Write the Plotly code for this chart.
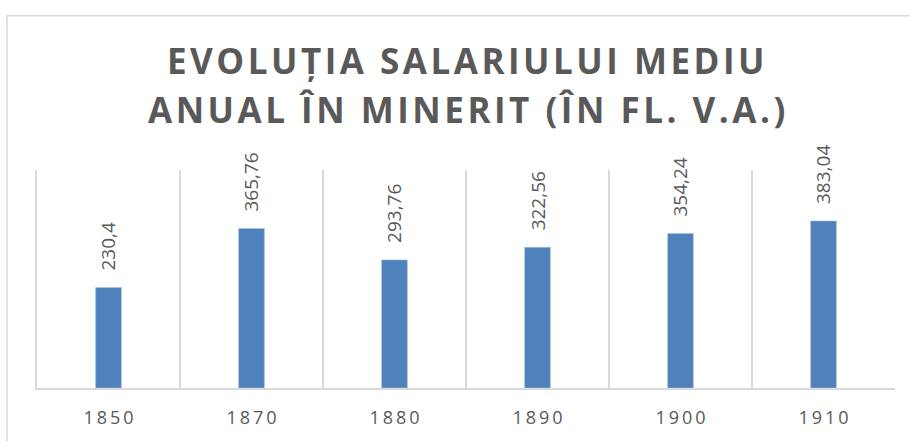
import plotly.graph_objects as go

# Data
years = ["1850", "1870", "1880", "1890", "1900", "1910"]
salaries = [230.4, 365.76, 293.76, 322.56, 354.24, 383.04]
salary_labels = ["230,4", "365,76", "293,76", "322,56", "354,24", "383,04"]
year_ticks = ["\u2009".join(y) for y in years]
title_lines = ["EVOLUȚIA SALARIULUI MEDIU", "ANUAL ÎN MINERIT (ÎN FL. V.A.)"]

W, H = 910, 441
ML, MR, MT, MB = 37, 15, 170, 49
plot_w = W - ML - MR
plot_h = H - MT - MB


def px_x(x):
    return (x - ML) / plot_w


def px_y(y):
    return (H - MB - y) / plot_h


grey = "#595959"
line_grey = "#d9d9d9"

fig = go.Figure()
fig.add_trace(go.Bar(
    x=years, y=salaries,
    marker=dict(color="#4f81bd", line=dict(color="#a7bfde", width=0.6)),
    width=0.18,
    hoverinfo="x+y",
))

# value labels above bars, rotated (x as category index)
for i, (val, lab) in enumerate(zip(salaries, salary_labels)):
    fig.add_annotation(
        x=i, y=val, text=lab, showarrow=False, textangle=-90,
        xanchor="center", yanchor="bottom", yshift=15,
        font=dict(family="Open Sans", size=19, color=grey),
    )

# two-line title, letter-spaced with hair spaces
for line, ypx in zip(title_lines, [58, 108]):
    fig.add_annotation(
        x=0.5, y=px_y(ypx), xref="paper", yref="paper",
        text="\u200a".join(line),
        showarrow=False, xanchor="center", yanchor="middle",
        font=dict(family="Open Sans", size=35, color=grey, weight="bold"),
    )

# chart frame (left and top edges visible)
fig.add_shape(
    type="rect", xref="paper", yref="paper",
    x0=px_x(7), x1=px_x(930), y0=px_y(470), y1=px_y(13),
    line=dict(color=line_grey, width=1.5), layer="below",
)

fig.update_layout(
    width=W, height=H,
    margin=dict(l=ML, r=MR, t=MT, b=MB),
    paper_bgcolor="white", plot_bgcolor="white",
    showlegend=False,
    font=dict(family="Open Sans", color=grey),
)
fig.update_xaxes(
    type="category", tickvals=years, ticktext=year_ticks,
    tickson="boundaries", ticks="", showgrid=True,
    gridcolor=line_grey, gridwidth=1.5,
    showline=True, linecolor=line_grey, linewidth=1.5,
    tickfont=dict(family="Open Sans", size=18, color=grey),
    ticklabelstandoff=13,
    range=[-0.5, 5.5],
)
fig.update_yaxes(
    range=[0, 500], showgrid=False, zeroline=False, showticklabels=False,
    ticks="", showline=True, linecolor=line_grey, linewidth=1.5,
)

fig.write_html(
    "out.html",
    config={"displayModeBar": False},
    post_script="document.body.style.margin='0px';",
)
